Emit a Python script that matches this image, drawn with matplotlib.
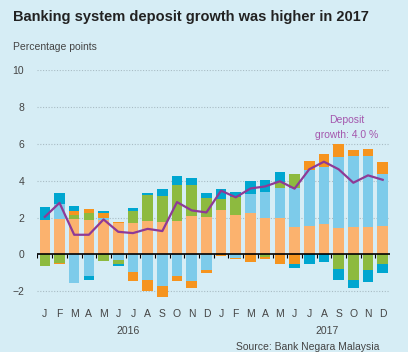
import numpy as np
import matplotlib.pyplot as plt

plt.rcParams['font.family'] = ['Liberation Sans', 'DejaVu Sans']

months = list("JFMAMJJASOND") * 2
years = ["2016", "2017"]

# contributions to deposit growth, percentage points
base_part = [1.85, 1.95, 1.90, 1.85, 1.85, 1.70, 1.72, 1.80, 1.75, 1.83, 2.08, 2.04,
             2.40, 2.14, 2.26, 2.00, 2.00, 1.50, 1.55, 1.68, 1.45, 1.50, 1.50, 1.54]
blue_part = [0.00, 0.80, -1.54, -1.18, 0.15, -0.30, -0.94, -1.36, -1.72, -1.18, -1.45, -0.85,
             0.00, -0.20, 1.02, 1.39, 1.63, 2.09, 3.03, 3.05, 3.82, 3.84, 3.84, 2.82]
green_part = [-0.60, -0.45, 0.24, 0.42, -0.36, -0.19, 0.63, 1.43, 1.41, 1.94, 1.69, 1.00,
              0.60, 0.96, 0.00, -0.12, 0.31, 0.76, 0.00, 0.00, -0.76, -1.40, -0.85, -0.53]
orange_part = [0.00, -0.08, 0.21, 0.20, 0.25, 0.07, -0.49, -0.62, -0.58, -0.25, -0.36, -0.18,
               -0.10, -0.05, -0.43, -0.15, -0.54, -0.53, 0.51, 0.72, 0.71, 0.33, 0.36, 0.67]
teal_part = [0.75, 0.60, 0.29, -0.18, 0.10, -0.11, 0.18, 0.12, 0.37, 0.50, 0.36, 0.31,
             0.53, 0.27, 0.70, 0.64, 0.51, -0.20, -0.49, -0.42, -0.60, -0.41, -0.64, -0.45]
deposit_growth = [2.04, 2.80, 1.07, 1.07, 1.90, 1.23, 1.16, 1.39, 1.27, 2.84, 2.39, 2.28,
                  3.46, 3.10, 3.58, 3.69, 3.97, 3.57, 4.62, 5.03, 4.62, 3.89, 4.29, 4.05]

bg = '#d6edf5'
series = [
    (base_part, '#fbb26e'),
    (blue_part, '#7dcbea'),
    (green_part, '#8dba3f'),
    (orange_part, '#f6941e'),
    (teal_part, '#00a6d0'),
]

fig = plt.figure(figsize=(4.08, 3.52), dpi=100, facecolor=bg)
ax = fig.add_axes([0.09, 0.146, 0.866, 0.655])
ax.set_facecolor(bg)

x = np.arange(len(months))
pos_base = np.zeros(len(x))
neg_base = np.zeros(len(x))
for vals, color in series:
    v = np.array(vals)
    p = np.where(v > 0, v, 0)
    n = np.where(v < 0, v, 0)
    ax.bar(x, p, 0.72, bottom=pos_base, color=color, zorder=2)
    ax.bar(x, n, 0.72, bottom=neg_base, color=color, zorder=2)
    pos_base += p
    neg_base += n

ax.plot(x, deposit_growth, color='#8e3a96', lw=1.6, zorder=4)

ax.set_xlim(-0.55, 23.5)
ax.set_ylim(-2.5, 10)
for s in ax.spines.values():
    s.set_visible(False)

# dotted gridlines, solid zero line with small separators between months
for g in [-2, 2, 4, 6, 8, 10]:
    ax.axhline(g, color='#a9bcc4', lw=0.8, ls=(0, (1, 1.5)), zorder=1)
ax.axhline(0, color='black', lw=1.2, zorder=3)
ax.vlines(np.arange(-0.5, 24, 1), -0.18, 0, color='black', lw=0.8, zorder=3)

ax.set_yticks([-2, 0, 2, 4, 6, 8, 10])
ax.set_xticks(x)
ax.set_xticklabels(months)
ax.tick_params(axis='both', length=0, labelsize=7.5, labelcolor='#444444')
ax.tick_params(axis='y', pad=9)
ax.tick_params(axis='x', pad=6)

ax.text(5.7, -4.15, years[0], fontsize=7.5, color='#444444',
        ha='center', va='center', clip_on=False)
ax.text(19.2, -4.15, years[1], fontsize=7.5, color='#444444',
        ha='center', va='center', clip_on=False)

ax.text(20.56, 6.9, "Deposit\ngrowth: 4.0 %", fontsize=7.5, color='#a457ad',
        ha='center', va='center', linespacing=1.6)

fig.text(0.032, 0.952, "Banking system deposit growth was higher in 2017",
         fontsize=10.5, fontweight='bold', color='#222222', ha='left', va='center')
fig.text(0.032, 0.866, "Percentage points", fontsize=7.5, color='#444444',
         ha='left', va='center')
fig.text(0.93, 0.015, "Source: Bank Negara Malaysia", fontsize=7.5, color='#444444',
         ha='right', va='center')

fig.savefig("out.png", dpi=100, facecolor=bg)
